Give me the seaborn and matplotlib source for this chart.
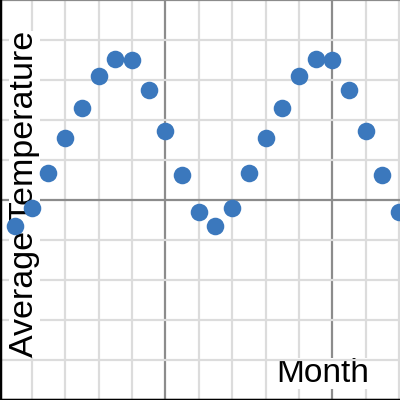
import numpy as np
import pandas as pd
import seaborn as sns
import matplotlib.pyplot as plt
from matplotlib.ticker import MultipleLocator

# two years of monthly values
months = [1, 2, 3, 4, 5, 6, 7, 8, 9, 10, 11, 12,
          13, 14, 15, 16, 17, 18, 19, 20, 21, 22, 23, 24]
avg_temp = [-1.3, -0.4, 1.35, 3.1, 4.6, 6.2, 7.05, 7.0, 5.5, 3.45, 1.25, -0.6,
            -1.3, -0.4, 1.35, 3.1, 4.6, 6.2, 7.05, 7.0, 5.5, 3.45, 1.25, -0.6]

df = pd.DataFrame({'Month': months, 'Average Temperature': avg_temp})

sns.set_style('white')
plt.rcParams['font.family'] = ['Liberation Sans', 'DejaVu Sans']

fig = plt.figure(figsize=(4, 4), dpi=100)
ax = fig.add_axes([0, 0, 1, 1])

sns.scatterplot(data=df, x='Month', y='Average Temperature', ax=ax,
                color='#3b78bd', s=160, linewidth=0, zorder=3)

ax.set_xlim(0.1, 24.05)
ax.set_ylim(-10, 10)

# grid: light minor lines, darker major lines
ax.xaxis.set_major_locator(MultipleLocator(10))
ax.xaxis.set_minor_locator(MultipleLocator(2))
ax.yaxis.set_major_locator(MultipleLocator(10))
ax.yaxis.set_minor_locator(MultipleLocator(2))
ax.grid(which='minor', color='#dcdcdc', linewidth=1.6, zorder=0)
ax.grid(which='major', color='#8c8c8c', linewidth=1.6, zorder=1)
ax.set_axisbelow(True)
ax.tick_params(which='both', length=0, labelbottom=False, labelleft=False)

for side in ['top', 'right']:
    ax.spines[side].set_visible(False)
for side in ['left', 'bottom']:
    ax.spines[side].set_color('black')
    ax.spines[side].set_linewidth(2.5)

# labels sit inside the plot area
ax.set_xlabel('Month', fontsize=24, color='black',
              bbox=dict(facecolor='white', edgecolor='none', pad=0))
ax.set_ylabel('Average Temperature', fontsize=24.5, color='black',
              bbox=dict(facecolor='white', edgecolor='none', pad=0))
ax.xaxis.set_label_coords(0.806, 0.104)
ax.yaxis.set_label_coords(0.1, 0.515)

plt.savefig('out.png', dpi=100)
